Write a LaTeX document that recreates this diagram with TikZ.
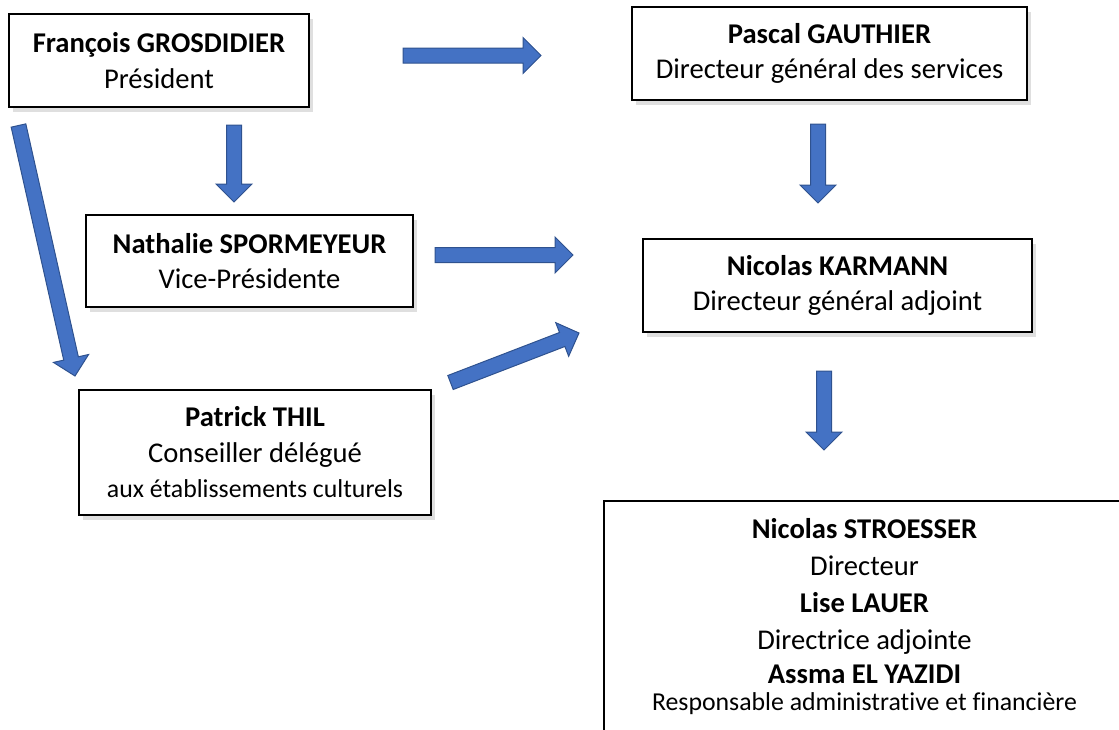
\documentclass[tikz,border=0pt]{standalone}
\usepackage{fontspec}
\setmainfont{Carlito}[Ligatures={NoCommon}]
\usetikzlibrary{calc,shadows}

\definecolor{arrowblue}{HTML}{4472C4}
\definecolor{arrowedge}{HTML}{2F528F}

% fat block arrow from #1 to #2
\newcommand{\blockarrow}[2]{%
    \coordinate (hb) at ($(#2)!9pt!(#1)$);
    \filldraw[blockarrow] ($(#1)!3.75pt!90:(#2)$) -- ($(hb)!3.75pt!90:(#2)$) -- ($(hb)!9pt!90:(#2)$) -- (#2)
        -- ($(hb)!9pt!-90:(#2)$) -- ($(hb)!3.75pt!-90:(#2)$) -- ($(#1)!3.75pt!-90:(#2)$) -- cycle;
}

\begin{document}
\begin{tikzpicture}[x=0.5pt,y=-0.5pt,
    box/.style={draw=black, line width=0.75pt, fill=white, align=center, inner sep=0pt,
        font=\fontsize{14.3}{17.75}\selectfont,
        drop shadow={shadow xshift=2pt, shadow yshift=-2.5pt, opacity=0.25}},
    blockarrow/.style={fill=arrowblue, draw=arrowedge, line width=0.5pt}]
    \useasboundingbox (0,0) rectangle (1119,729);

    % boxes
    \node[box, minimum width=150pt, minimum height=46.5pt] (pres) at (159,60.5)
        {\textbf{François GROSDIDIER}\\Président};
    \node[box, minimum width=197.5pt, minimum height=46.5pt] (dgs) at (829.5,53.5)
        {\textbf{Pascal GAUTHIER}\\Directeur général des services};
    \node[box, minimum width=163.5pt, minimum height=46pt] (vp) at (249.5,261)
        {\textbf{Nathalie SPORMEYEUR}\\Vice-Présidente};
    \node[box, minimum width=194.5pt, minimum height=46.5pt] (dga) at (837.5,285.5)
        {\textbf{Nicolas KARMANN}\\Directeur général adjoint};
    \node[box, minimum width=176pt, minimum height=62.5pt] (cons) at (255,452.5)
        {\textbf{Patrick THIL}\\Conseiller délégué\\{\fontsize{12.9}{14}\selectfont aux établissements culturels}};
    \node[box, anchor=north, minimum width=260.5pt, inner ysep=9pt, text depth=40pt,
        font=\fontsize{14.3}{18.5}\selectfont] (dir) at (864.5,500)
        {\textbf{Nicolas STROESSER}\\Directeur\\\textbf{Lise LAUER}\\Directrice adjointe\\[-1.5pt]
         \textbf{Assma EL YAZIDI}\\[-5pt]{\fontsize{12.9}{14}\selectfont Responsable administrative et financière}};

    % arrow ends
    \coordinate (presA) at (18.5,125.5);
    \coordinate (consA) at (75,376);
    \coordinate (presB) at (234,125);
    \coordinate (vpB) at (234,202);
    \coordinate (presC) at (403,55.5);
    \coordinate (dgsC) at (541,55.5);
    \coordinate (vpD) at (435,255);
    \coordinate (dgaD) at (573,255);
    \coordinate (consE) at (450.5,382.5);
    \coordinate (dgaE) at (579,333);
    \coordinate (dgsF) at (818,124);
    \coordinate (dgaF) at (818,203);
    \coordinate (dgaG) at (824,371);
    \coordinate (dirG) at (824,450);

    % arrows
    \blockarrow{presA}{consA}
    \blockarrow{presB}{vpB}
    \blockarrow{presC}{dgsC}
    \blockarrow{vpD}{dgaD}
    \blockarrow{consE}{dgaE}
    \blockarrow{dgsF}{dgaF}
    \blockarrow{dgaG}{dirG}
\end{tikzpicture}
\end{document}
